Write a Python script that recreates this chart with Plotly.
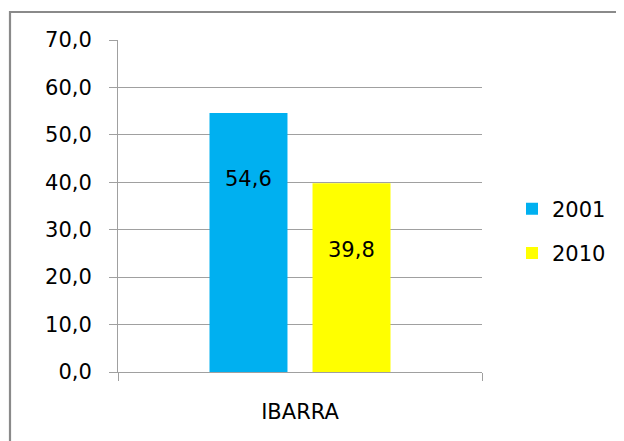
import plotly.graph_objects as go

categories = ["IBARRA"]
years = ["2001", "2010"]
values_2001 = [54.6]
values_2010 = [39.8]
colors = ["#00B0F0", "#FFFF00"]
y_ticks = [0, 10, 20, 30, 40, 50, 60, 70]

FONT = "DejaVu Sans"
fs = 21

# page body has an 8px margin, so the figure is laid out 8px smaller/shifted
OFF = 8
L, R, T, B = 118 - OFF, 482 - OFF, 40 - OFF, 372 - OFF
W, H = 624 - OFF, 441 - OFF
PW, PH = R - L, B - T

fig = go.Figure()
for name, vals, col in zip(years, [values_2001, values_2010], colors):
    fig.add_trace(go.Bar(
        x=categories, y=vals, name=name, marker=dict(color=col, line=dict(width=0)),
        legendgroup=name,
    ))

# data labels (positioned like the original, below the bar tops)
offsets = [-51.5, 51.5]
for vals, dx in zip([values_2001, values_2010], offsets):
    for c, v in zip(categories, vals):
        fig.add_annotation(
            x=c, y=v - 14, xshift=dx, text=f"{v:.1f}".replace(".", ","),
            showarrow=False, font=dict(family=FONT, size=fs, color="#000000"),
            yanchor="middle", xanchor="center",
        )

fig.add_shape(
    type="rect", xref="paper", yref="paper",
    x0=(10 - OFF - L) / PW, x1=(640 - OFF - L) / PW,
    y0=(B - (12 - OFF)) / PH, y1=(B - 460) / PH,
    line=dict(color="#8a8a8a", width=2.2), fillcolor="rgba(0,0,0,0)", layer="below",
)

fig.update_layout(
    width=W, height=H,
    margin=dict(l=L, r=W - R, t=T, b=H - B),
    paper_bgcolor="white", plot_bgcolor="white",
    barmode="group", bargap=0.434, bargroupgap=0.243,
    font=dict(family=FONT, size=fs, color="#000000"),
    showlegend=True,
    legend=dict(
        x=(512 - OFF - L) / PW, y=(372 - 231) / 332, xanchor="left", yanchor="middle",
        traceorder="grouped", tracegroupgap=14, itemwidth=30,
        font=dict(family=FONT, size=fs), bgcolor="rgba(0,0,0,0)",
    ),
)
fig.update_xaxes(
    type="category", showline=True, linecolor="#a0a0a0", linewidth=1,
    ticks="outside", tickson="boundaries", ticklen=8, tickcolor="#a0a0a0",
    showgrid=False, tickfont=dict(family=FONT, size=fs), ticklabelstandoff=21,
)
fig.update_yaxes(
    range=[0, 70], tickvals=y_ticks,
    ticktext=[f"{t:.1f}".replace(".", ",") for t in y_ticks],
    showline=True, linecolor="#a0a0a0", linewidth=1,
    ticks="outside", ticklen=8, tickcolor="#a0a0a0",
    showgrid=True, gridcolor="#a0a0a0", gridwidth=1, zeroline=False,
    tickfont=dict(family=FONT, size=fs), ticklabelstandoff=13,
)

fig.write_html("out.html")
